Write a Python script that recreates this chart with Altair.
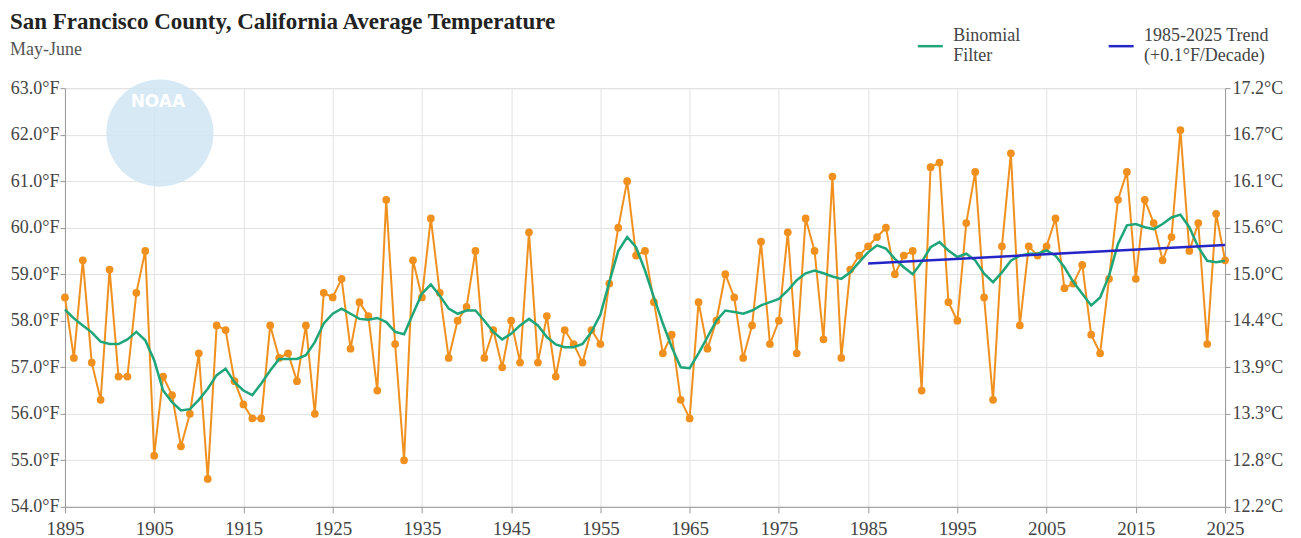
import altair as alt
import pandas as pd

years = list(range(1895, 2026))
temps = [
    58.5, 57.2, 59.3, 57.1, 56.3, 59.1, 56.8, 56.8, 58.6, 59.5,  # 1895-1904
    55.1, 56.8, 56.4, 55.3, 56.0, 57.3, 54.6, 57.9, 57.8, 56.7,  # 1905-1914
    56.2, 55.9, 55.9, 57.9, 57.2, 57.3, 56.7, 57.9, 56.0, 58.6,  # 1915-1924
    58.5, 58.9, 57.4, 58.4, 58.1, 56.5, 60.6, 57.5, 55.0, 59.3,  # 1925-1934
    58.5, 60.2, 58.6, 57.2, 58.0, 58.3, 59.5, 57.2, 57.8, 57.0,  # 1935-1944
    58.0, 57.1, 59.9, 57.1, 58.1, 56.8, 57.8, 57.5, 57.1, 57.8,  # 1945-1954
    57.5, 58.8, 60.0, 61.0, 59.4, 59.5, 58.4, 57.3, 57.7, 56.3,  # 1955-1964
    55.9, 58.4, 57.4, 58.0, 59.0, 58.5, 57.2, 57.9, 59.7, 57.5,  # 1965-1974
    58.0, 59.9, 57.3, 60.2, 59.5, 57.6, 61.1, 57.2, 59.1, 59.4,  # 1975-1984
    59.6, 59.8, 60.0, 59.0, 59.4, 59.5, 56.5, 61.3, 61.4, 58.4,  # 1985-1994
    58.0, 60.1, 61.2, 58.5, 56.3, 59.6, 61.6, 57.9, 59.6, 59.4,  # 1995-2004
    59.6, 60.2, 58.7, 58.8, 59.2, 57.7, 57.3, 58.9, 60.6, 61.2,  # 2005-2014
    58.9, 60.6, 60.1, 59.3, 59.8, 62.1, 59.5, 60.1, 57.5, 60.3,  # 2015-2024
    59.3,                                                        # 2025
]
binomial = [
    58.24, 58.05, 57.90, 57.75, 57.55, 57.50, 57.50, 57.60, 57.76, 57.58,
    57.15, 56.50, 56.25, 56.07, 56.10, 56.30, 56.54, 56.83, 56.97, 56.68,
    56.50, 56.40, 56.65, 56.93, 57.18, 57.18, 57.18, 57.26, 57.54, 57.94,
    58.15, 58.26, 58.15, 58.04, 58.02, 58.06, 57.97, 57.76, 57.71, 58.15,
    58.58, 58.78, 58.54, 58.26, 58.15, 58.22, 58.22, 58.00, 57.76, 57.60,
    57.72, 57.90, 58.04, 57.90, 57.65, 57.49, 57.43, 57.43, 57.50, 57.76,
    58.13, 58.83, 59.50, 59.80, 59.58, 59.08, 58.50, 57.94, 57.43, 57.00,
    56.98, 57.30, 57.65, 58.00, 58.22, 58.19, 58.15, 58.22, 58.33, 58.40,
    58.47, 58.65, 58.87, 59.02, 59.08, 59.02, 58.95, 58.90, 59.04, 59.26,
    59.47, 59.62, 59.55, 59.33, 59.15, 59.00, 59.26, 59.58, 59.69, 59.51,
    59.37, 59.44, 59.30, 59.01, 58.83, 59.04, 59.29, 59.40, 59.44, 59.44,
    59.51, 59.40, 59.15, 58.83, 58.58, 58.33, 58.50, 58.97, 59.65, 60.05,
    60.08, 60.01, 59.97, 60.08, 60.22, 60.28, 60.01, 59.58, 59.29, 59.26,
    59.29,
]
trend_years = [1985, 2025]
trend_values = [59.23, 59.63]

filter_name = "Binomial Filter"
trend_name = "1985-2025 Trend (+0.1°F/Decade)"
x_ticks = list(range(1895, 2026, 10))
y_ticks = list(range(54, 64))

SERIF = "Liberation Serif"

df = pd.DataFrame({"year": years, "temp": temps})
filt_df = pd.DataFrame({"year": years, "value": binomial, "series": filter_name})
trend_df = pd.DataFrame({"year": trend_years, "value": trend_values, "series": trend_name})
logo_df = pd.DataFrame({"label": ["NOAA"]})

xscale = alt.Scale(domain=[1895, 2025], nice=False, zero=False)
yscale = alt.Scale(domain=[54, 63], nice=False, zero=False)

common_axis = dict(
    labelFont=SERIF, labelColor="#444",
    domainColor="#999", tickColor="#999", gridColor="#e2e2e2",
)

xenc = alt.X(
    "year:Q", scale=xscale, title=None,
    axis=alt.Axis(values=x_ticks, format="d", tickSize=6, labelPadding=7, labelFontSize=19,
                  labelFlush=False, labelOverlap=False, **common_axis),
)
yenc_left = alt.Y(
    "temp:Q", scale=yscale, title=None,
    axis=alt.Axis(values=y_ticks, labelExpr="format(datum.value, '.1f') + '°F'",
                  tickSize=5, labelPadding=1, labelFontSize=18, **common_axis),
)

color_scale = alt.Scale(domain=[filter_name, trend_name], range=["#1fa57a", "#2626c8"])
legend = alt.Legend(
    title=None, orient="none", legendX=852, legendY=-56, direction="horizontal",
    symbolType="stroke", symbolSize=625, symbolStrokeWidth=2.5,
    labelFont=SERIF, labelFontSize=18, labelColor="#444", labelLimit=300,
    labelBaseline="line-bottom", columnPadding=83, labelOffset=9, padding=0,
    labelExpr="datum.label == 'Binomial Filter' ? ['Binomial', 'Filter'] : ['1985-2025 Trend', '(+0.1°F/Decade)']",
)

logo = alt.Chart(logo_df).mark_circle(color="#cfe5f3", opacity=0.85, size=11500).encode(
    x=alt.value(95), y=alt.value(45)
)
logo_text = alt.Chart(logo_df).mark_text(
    color="white", font="DejaVu Sans", fontWeight="bold", fontSize=17
).encode(x=alt.value(93), y=alt.value(14), text="label:N")

obs_line = alt.Chart(df).mark_line(color="#f0901e", strokeWidth=2).encode(x=xenc, y=yenc_left)
obs_pts = alt.Chart(df).mark_circle(color="#f0901e", opacity=1, size=60).encode(
    x="year:Q", y="temp:Q"
)
filt_line = alt.Chart(filt_df).mark_line(strokeWidth=2.5).encode(
    x="year:Q", y=alt.Y("value:Q"),
    color=alt.Color("series:N", scale=color_scale, legend=legend),
)
trend_line = alt.Chart(trend_df).mark_line(strokeWidth=2.5).encode(
    x="year:Q", y=alt.Y("value:Q"),
    color=alt.Color("series:N", scale=color_scale, legend=legend),
)

main = alt.layer(logo, logo_text, obs_line, obs_pts, filt_line, trend_line)

right = alt.Chart(df).mark_line(opacity=0).encode(
    x="year:Q",
    y=alt.Y("temp:Q", scale=yscale, title=None,
            axis=alt.Axis(orient="right", values=y_ticks, grid=False,
                          labelExpr="format((datum.value - 32) * 5 / 9, '.1f') + '°C'",
                          tickSize=5, labelPadding=2, labelFontSize=18, **common_axis)),
)

chart = alt.layer(main, right).resolve_scale(y="independent").properties(
    width=1161, height=419,
    autosize=alt.AutoSizeParams(type="none"),
    padding={"left": 57, "top": 80, "right": 68, "bottom": 31},
    title=alt.TitleParams(
        text="San Francisco County, California Average Temperature",
        subtitle="May-June", anchor="start", frame="group", dx=-55, offset=-27,
        font=SERIF, fontSize=23, fontWeight="bold", color="#222",
        subtitleFont=SERIF, subtitleFontSize=18, subtitleColor="#555", subtitlePadding=7,
    ),
).configure_view(stroke=None).configure(background="white")

chart.save("out.html", embed_options={"renderer": "svg", "actions": False})
